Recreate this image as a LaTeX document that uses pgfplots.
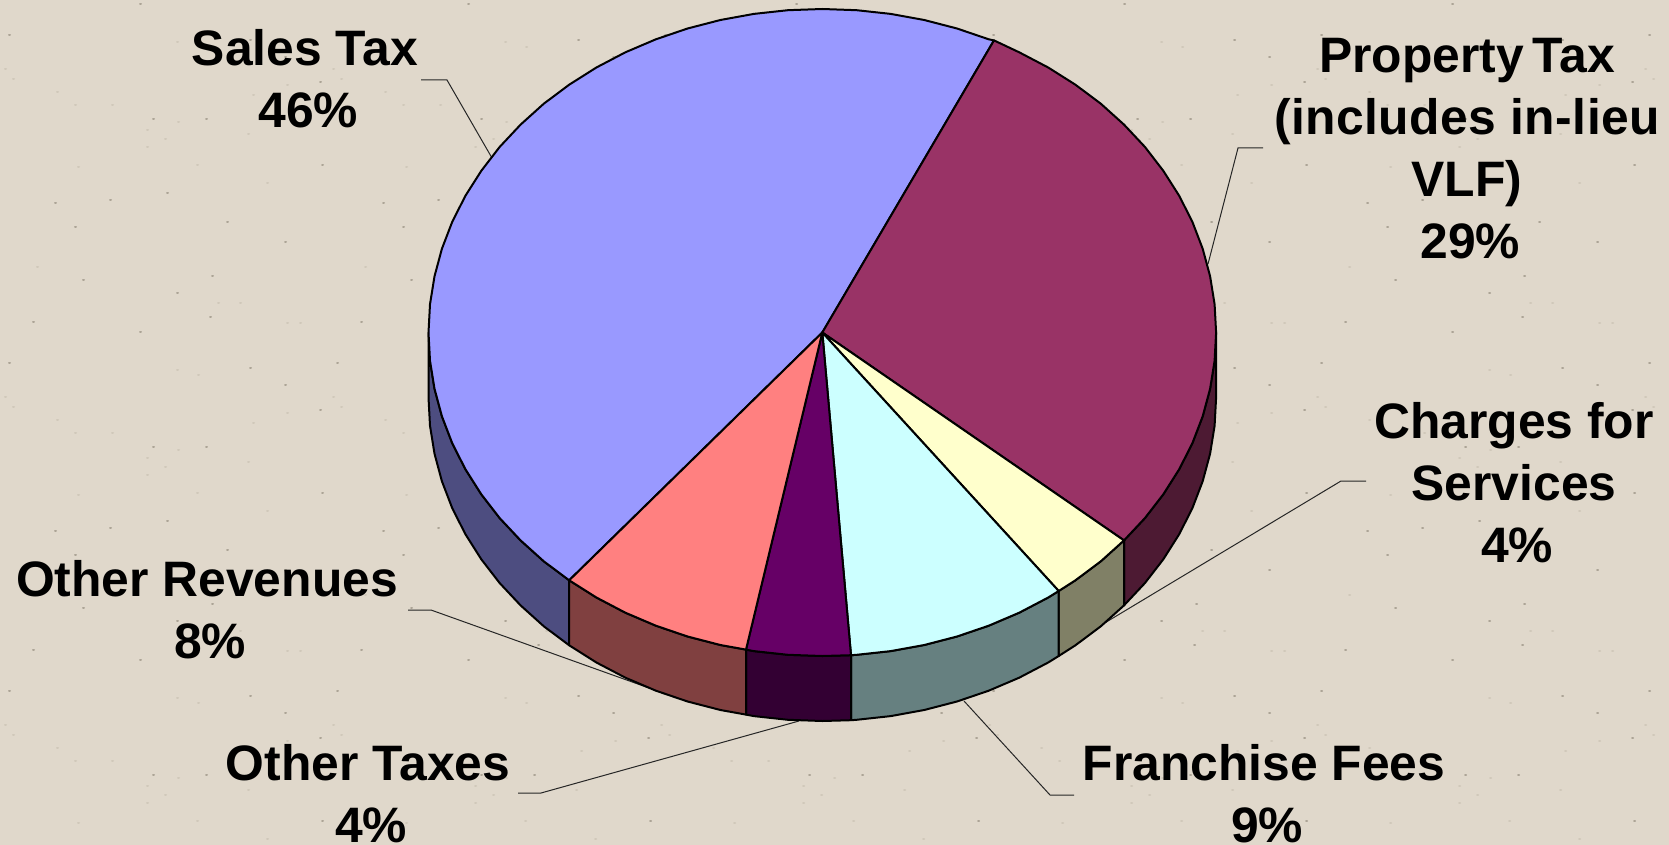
\documentclass[border=0pt]{standalone}
\usepackage{fontspec}
\setmainfont{Liberation Sans}
\usepackage{pgfplots}
\usepackage{pgfplotstable}
\pgfplotsset{compat=1.18}

% coordinates are pixels of the 1669x845 picture, y downwards
\definecolor{bg}{RGB}{224,216,203}
\definecolor{speckdark}{RGB}{172,164,150}
\definecolor{specklight}{RGB}{208,200,186}
\definecolor{salestop}{HTML}{9999FF}
\definecolor{salesside}{HTML}{4D4D80}
\definecolor{proptop}{HTML}{993366}
\definecolor{propside}{HTML}{4D1A33}
\definecolor{chargetop}{HTML}{FFFFCC}
\definecolor{chargeside}{HTML}{808066}
\definecolor{frantop}{HTML}{CCFFFF}
\definecolor{franside}{HTML}{668080}
\definecolor{taxtop}{HTML}{660066}
\definecolor{taxside}{HTML}{330033}
\definecolor{revtop}{HTML}{FF8080}
\definecolor{revside}{HTML}{804040}

\pgfplotsset{
  slice/.style={fill=#1, draw=black, line width=1pt, line join=round, mark=none},
  leader/.style={draw=black!85, line width=0.5pt, mark=none},
  speck/.style={draw=#1, line width=1pt, line cap=round, mark=none, unbounded coords=jump},
}
\tikzset{
  lbl/.style={font=\fontsize{24.9}{31}\selectfont\bfseries, align=center, inner sep=0pt, anchor=center},
}
\newcommand{\pct}[1]{\hspace*{3.2pt}#1\%}

% one tile of the paper texture, repeated every 328 px; each speck is a very short dash
\pgfplotstableread[row sep=\\]{
x y\\
55 203\\ 56 203\\ nan nan\\
167 193\\ 168 193\\ nan nan\\
75 227\\ 76 227\\ nan nan\\
227 222\\ 228 222\\ nan nan\\
83 280\\ 84 280\\ nan nan\\
212 276\\ 213 276\\ nan nan\\
140 4\\ 141 4\\ nan nan\\
210 317\\ 211 317\\ nan nan\\
285 57\\ 286 57\\ nan nan\\
250 40\\ 251 40\\ nan nan\\
320 82\\ 321 82\\ nan nan\\
206 119\\ 207 119\\ nan nan\\
153 119\\ 154 119\\ nan nan\\
322 165\\ 323 165\\ nan nan\\
285 242\\ 286 242\\ nan nan\\
177 293\\ 178 293\\ nan nan\\
110 200\\ 111 200\\ nan nan\\
33 322\\ 34 322\\ nan nan\\
9 35\\ 10 35\\
}\speckdarktile
\pgfplotstableread[row sep=\\]{
x y\\
37 267\\ 38 267\\ nan nan\\
218 303\\ 219 303\\ nan nan\\
240 303\\ 241 303\\ nan nan\\
287 323\\ 288 323\\ nan nan\\
300 323\\ 301 323\\ nan nan\\
177 42\\ 178 42\\ nan nan\\
198 47\\ 199 47\\ nan nan\\
5 69\\ 6 69\\ nan nan\\
13 79\\ 14 79\\ nan nan\\
57 92\\ 58 92\\ nan nan\\
75 105\\ 76 105\\ nan nan\\
112 105\\ 113 105\\ nan nan\\
147 130\\ 148 130\\ nan nan\\
178 122\\ 179 122\\ nan nan\\
165 139\\ 166 139\\ nan nan\\
248 134\\ 249 134\\ nan nan\\
253 95\\ 254 95\\ nan nan\\
287 85\\ 288 85\\ nan nan\\
78 167\\ 79 167\\ nan nan\\
147 147\\ 148 147\\ nan nan\\
197 165\\ 198 165\\ nan nan\\
267 183\\ 268 183\\
}\specklighttile

\begin{document}
\begin{tikzpicture}
\begin{axis}[
    width=834.5pt, height=422.5pt, scale only axis,
    xmin=0, xmax=1669, ymin=0, ymax=845,
    y dir=reverse,
    axis lines=none,
]
% background
\addplot[fill=bg, draw=none, mark=none] coordinates {(0,0) (1669,0) (1669,845) (0,845)} --cycle;

\pgfplotsinvokeforeach{0,1,2,3,4,5}{
  \addplot[speck=specklight, xshift=#1*164pt] table {\specklighttile};
  \addplot[speck=specklight, xshift=#1*164pt, yshift=-164pt] table {\specklighttile};
  \addplot[speck=specklight, xshift=#1*164pt, yshift=-328pt] table {\specklighttile};
  \addplot[speck=speckdark, xshift=#1*164pt] table {\speckdarktile};
  \addplot[speck=speckdark, xshift=#1*164pt, yshift=-164pt] table {\speckdarktile};
  \addplot[speck=speckdark, xshift=#1*164pt, yshift=-328pt] table {\speckdarktile};
}

% leader lines
\addplot[leader] coordinates {(421,80) (447,80) (492,158)};
\addplot[leader] coordinates {(1263,148) (1238,148) (1208,264)};
\addplot[leader] coordinates {(1366,481) (1341,481) (1093,630)};
\addplot[leader] coordinates {(408,610) (431,610) (649,688)};
\addplot[leader] coordinates {(518,793) (541,793) (799,721)};
\addplot[leader] coordinates {(964,701) (1050,795) (1074,795)};

% side walls
\addplot[slice=salesside] coordinates {(428.5,332.5) (430,360.7) (434.5,388.7) (441.9,416.2) (452.2,443.1) (465.4,469.2) (481.3,494.3) (499.7,518.1) (520.6,540.4) (543.8,561.3) (569.2,580.3)
  (569.2,645.3) (543.8,626.3) (520.6,605.4) (499.7,583.1) (481.3,559.3) (465.4,534.2) (452.2,508.1) (441.9,481.2) (434.5,453.7) (430,425.7) (428.5,397.5)} --cycle;
\addplot[slice=propside] coordinates {(1216.1,332.5) (1214.6,360.7) (1210.1,388.7) (1202.7,416.2) (1192.4,443.1) (1179.2,469.2) (1163.3,494.3) (1144.9,518.1) (1124,540.4)
  (1124,605.4) (1144.9,583.1) (1163.3,559.3) (1179.2,534.2) (1192.4,508.1) (1202.7,481.2) (1210.1,453.7) (1214.6,425.7) (1216.1,397.5)} --cycle;
\addplot[slice=chargeside] coordinates {(1124,540.4) (1100.8,561.3) (1075.4,580.3) (1058.7,591)
  (1058.7,656) (1075.4,645.3) (1100.8,626.3) (1124,605.4)} --cycle;
\addplot[slice=franside] coordinates {(1058.7,591) (1048.2,597.5) (1019.2,612.7) (988.7,625.7) (957,636.5) (924.2,645) (890.7,651.1) (856.6,654.8) (851,655.2)
  (851,720.2) (856.6,719.8) (890.7,716.1) (924.2,710) (957,701.5) (988.7,690.7) (1019.2,677.7) (1048.2,662.5) (1058.7,656)} --cycle;
\addplot[slice=taxside] coordinates {(851,655.2) (822.3,656) (788,654.8) (753.9,651.1) (746,649.6)
  (746,714.6) (753.9,716.1) (788,719.8) (822.3,721) (851,720.2)} --cycle;
\addplot[slice=revside] coordinates {(746,649.6) (720.4,645) (687.6,636.5) (655.9,625.7) (625.4,612.7) (596.4,597.5) (569.2,580.3)
  (569.2,645.3) (596.4,662.5) (625.4,677.7) (655.9,690.7) (687.6,701.5) (720.4,710) (746,714.6)} --cycle;

% top faces: Sales Tax 46, Property Tax 29, Charges 4, Franchise 9, Other Taxes 4, Other Revenues 8
\addplot[slice=salestop] coordinates {(822.3,332.5) (994,40.4) (988.7,39.3) (957,28.5) (924.2,20) (890.7,13.9) (856.6,10.2) (822.3,9) (788,10.2) (753.9,13.9) (720.4,20) (687.6,28.5) (655.9,39.3) (625.4,52.3) (596.4,67.5) (569.2,84.7) (543.8,103.7) (520.6,124.6) (499.7,146.9) (481.3,170.8) (465.4,195.8) (452.2,221.9) (441.9,248.8) (434.5,276.3) (430,304.3) (428.5,332.5) (430,360.7) (434.5,388.7) (441.9,416.2) (452.2,443.1) (465.4,469.2) (481.3,494.3) (499.7,518.1) (520.6,540.4) (543.8,561.3) (569.2,580.3)} --cycle;
\addplot[slice=proptop] coordinates {(822.3,332.5) (994,40.4) (1019.2,52.3) (1048.2,67.5) (1075.4,84.7) (1100.8,103.7) (1124,124.6) (1144.9,146.9) (1163.3,170.8) (1179.2,195.8) (1192.4,221.9) (1202.7,248.8) (1210.1,276.3) (1214.6,304.3) (1216.1,332.5) (1214.6,360.7) (1210.1,388.7) (1202.7,416.2) (1192.4,443.1) (1179.2,469.2) (1163.3,494.3) (1144.9,518.1) (1124,540.4)} --cycle;
\addplot[slice=chargetop] coordinates {(822.3,332.5) (1124,540.4) (1100.8,561.3) (1075.4,580.3) (1058.7,591)} --cycle;
\addplot[slice=frantop] coordinates {(822.3,332.5) (1058.7,591) (1048.2,597.5) (1019.2,612.7) (988.7,625.7) (957,636.5) (924.2,645) (890.7,651.1) (856.6,654.8) (851,655.2)} --cycle;
\addplot[slice=taxtop] coordinates {(822.3,332.5) (851,655.2) (822.3,656) (788,654.8) (753.9,651.1) (746,649.6)} --cycle;
\addplot[slice=revtop] coordinates {(822.3,332.5) (746,649.6) (720.4,645) (687.6,636.5) (655.9,625.7) (625.4,612.7) (596.4,597.5) (569.2,580.3)} --cycle;

% labels
\node[lbl] at (axis cs:305,79) {Sales Tax\\\pct{46}};
\node[lbl] at (axis cs:1467,149) {Property\hspace{-2.6pt} Tax\\{\addfontfeature{LetterSpace=0.9}(includes in-lieu}\\VLF)\\\pct{29}};
\node[lbl] at (axis cs:1514,483) {Charges for\\Services\\\pct{4}};
\node[lbl] at (axis cs:207,610) {Other Revenues\\\pct{8}};
\node[lbl] at (axis cs:368,794) {Other Taxes\\\pct{4}};
\node[lbl] at (axis cs:1264,794) {Franchise Fees\\\pct{9}};
\end{axis}
\pgfresetboundingbox
\path[use as bounding box] (0,0) rectangle (834.5pt,422.5pt);
\end{tikzpicture}
\end{document}
